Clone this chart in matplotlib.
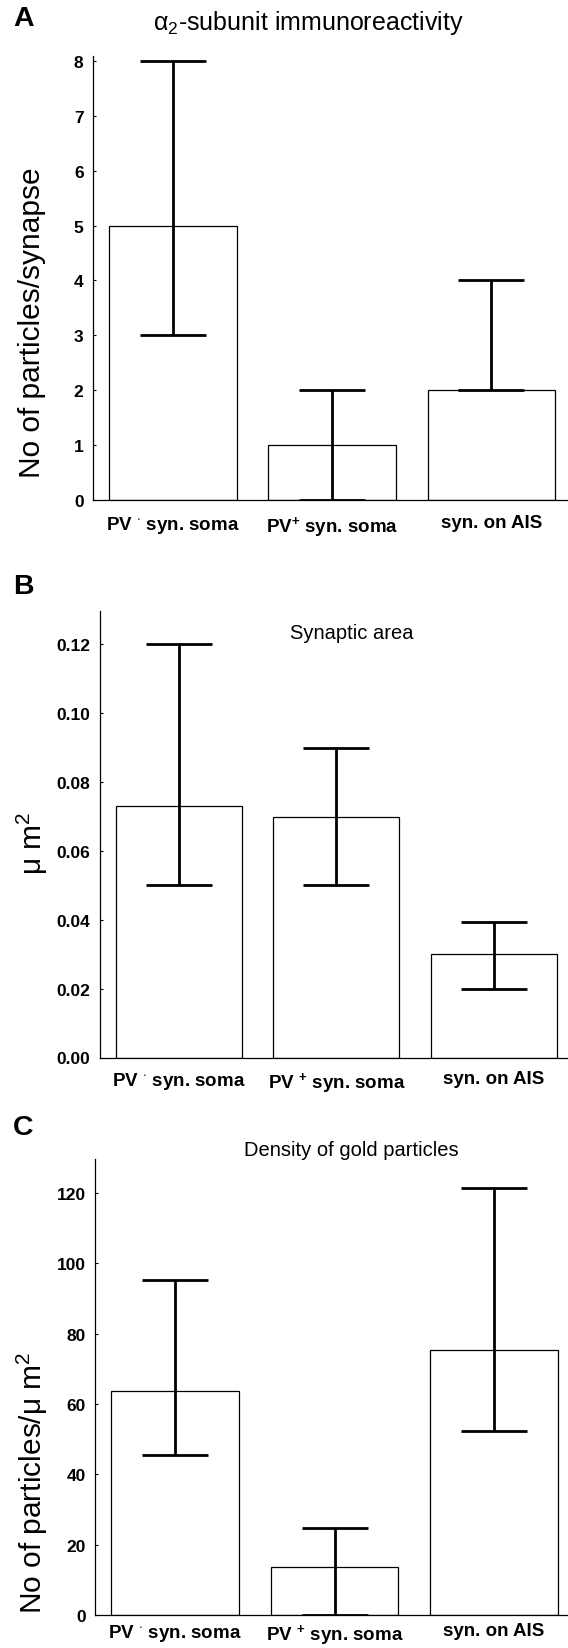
import matplotlib
matplotlib.use("Agg")
import matplotlib.pyplot as plt
import numpy as np

plt.rcParams['font.family'] = ['Liberation Sans', 'DejaVu Sans']
plt.rcParams['mathtext.fontset'] = 'custom'
plt.rcParams['mathtext.rm'] = 'Liberation Sans'
plt.rcParams['mathtext.bf'] = 'Liberation Sans:bold'
plt.rcParams['mathtext.it'] = 'Liberation Sans:italic'

# ---- data ----
categories_a = [r"PV $^{\mathbf{\cdot}}$ syn. soma", r"PV$^{\mathbf{+}}$ syn. soma", "syn. on AIS"]
categories_bc = [r"PV $^{\mathbf{\cdot}}$ syn. soma", r"PV $^{\mathbf{+}}$ syn. soma", "syn. on AIS"]

a_values = [5, 1, 2]
a_low = [3, 0, 2]
a_high = [8, 2, 4]
a_yticks = [0, 1, 2, 3, 4, 5, 6, 7, 8]

b_values = [0.073, 0.070, 0.030]
b_low = [0.050, 0.050, 0.020]
b_high = [0.120, 0.090, 0.0395]
b_yticks = [0.00, 0.02, 0.04, 0.06, 0.08, 0.10, 0.12]

c_values = [63.6, 13.7, 75.5]
c_low = [45.4, 0.0, 52.3]
c_high = [95.2, 24.8, 121.5]
c_yticks = [0, 20, 40, 60, 80, 100, 120]

W, H = 568, 1649
fig = plt.figure(figsize=(W / 100, H / 100), dpi=100)


def make_axes(left, right, top, bottom):
    return fig.add_axes([left / W, 1 - bottom / H, (right - left) / W, (bottom - top) / H])


def draw_panel(ax, cats, vals, low, high, yticks, ylim, xlim, fmt, xpad):
    x = np.arange(1, len(vals) + 1)
    vals = np.array(vals, dtype=float)
    yerr = np.vstack([vals - np.array(low), np.array(high) - vals])
    ax.bar(x, vals, width=0.8, color='white', edgecolor='black', linewidth=0.9, zorder=2)
    ax.errorbar(x, vals, yerr=yerr, fmt='none', ecolor='black', elinewidth=2.0,
                capsize=23.5, capthick=2.0, zorder=3)
    ax.set_xlim(*xlim)
    ax.set_ylim(*ylim)
    ax.set_yticks(yticks)
    ax.set_yticklabels([fmt.format(v) for v in yticks], fontsize=12.5, fontweight='bold')
    ax.set_xticks(x)
    ax.set_xticklabels(cats, fontsize=13.5, fontweight='bold')
    ax.tick_params(axis='y', direction='in', length=2, width=0.8, pad=7)
    ax.tick_params(axis='x', length=0, pad=xpad)
    for s in ['top', 'right']:
        ax.spines[s].set_visible(False)
    for s in ['left', 'bottom']:
        ax.spines[s].set_linewidth(0.9)


axA = make_axes(93.3, 568, 56.7, 501.3)
draw_panel(axA, categories_a, a_values, a_low, a_high, a_yticks, (0, 8.09), (0.5, 3.482), "{:d}", 10)

axB = make_axes(100, 568, 611.7, 1058.5)
draw_panel(axB, categories_bc, b_values, b_low, b_high, b_yticks, (0, 0.1298), (0.5, 3.47), "{:.2f}", 9)

axC = make_axes(95.3, 568, 1160, 1616)
draw_panel(axC, categories_bc, c_values, c_low, c_high, c_yticks, (0, 129.7), (0.5, 3.464), "{:d}", 5)

# panel letters
for letter, y in [("A", 19), ("B", 587), ("C", 1128)]:
    fig.text(13 / W, 1 - y / H, letter, fontsize=20.5, fontweight='bold', ha='left', va='center')

# titles
fig.text(308 / W, 1 - 23 / H, "\u03b1$_2$-subunit immunoreactivity", fontsize=18, ha='center', va='center')
fig.text(352 / W, 1 - 634 / H, "Synaptic area", fontsize=14.5, ha='center', va='center')
fig.text(351 / W, 1 - 1151 / H, "Density of gold particles", fontsize=14.5, ha='center', va='center')

# y labels
fig.text(32 / W, 1 - 323 / H, "No of particles/synapse", fontsize=21.5, rotation=90, ha='center', va='center')
fig.text(32 / W, 1 - 843 / H, "\u03bc m$^2$", fontsize=21.5, rotation=90, ha='center', va='center')
fig.text(32 / W, 1 - 1483 / H, "No of particles/\u03bc m$^2$", fontsize=21.5, rotation=90, ha='center', va='center')

fig.savefig("out.png", dpi=100)
